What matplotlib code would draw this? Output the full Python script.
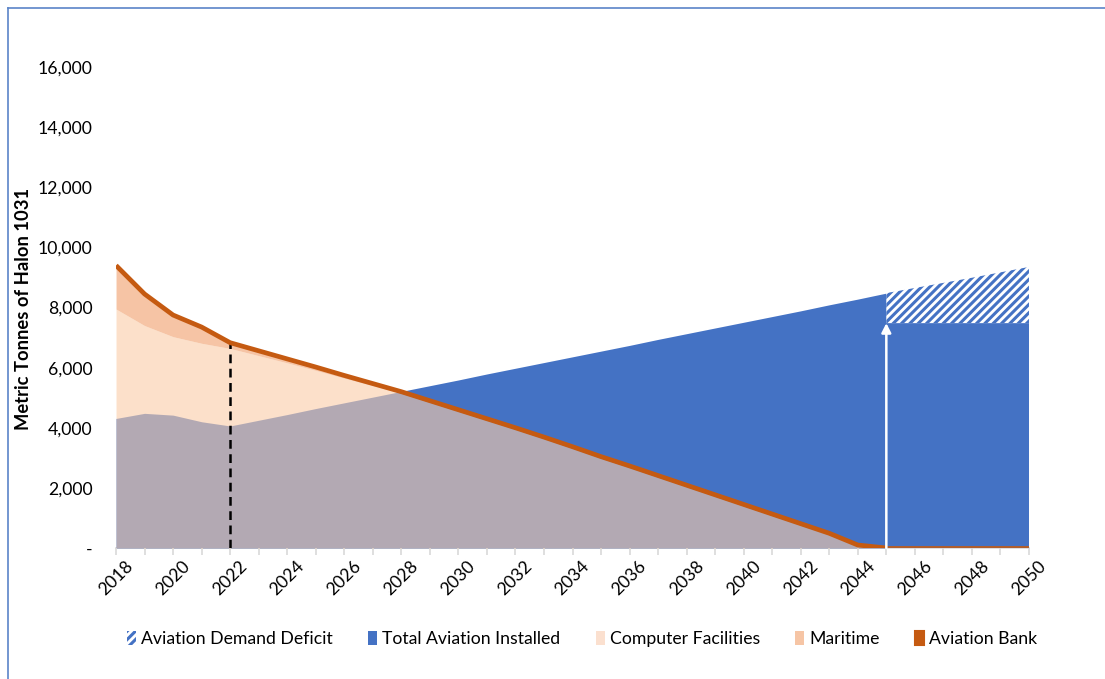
import matplotlib
matplotlib.use("Agg")
import matplotlib.pyplot as plt
import numpy as np
from matplotlib.patches import Patch
from matplotlib.lines import Line2D
from matplotlib.ticker import FuncFormatter, MultipleLocator

plt.rcParams['font.family'] = ['Lato', 'DejaVu Sans']
plt.rcParams['hatch.linewidth'] = 2.2

years = list(range(2018, 2051))

# Aviation bank (line), 2018-2050
aviation_bank = [9400, 8450, 7750, 7350, 6830, 6560, 6290, 6020, 5740, 5470,
                 5200, 4900, 4600, 4300, 4000, 3690, 3370, 3040, 2730, 2410,
                 2090, 1770, 1450, 1130, 810, 490, 100, 0, 0, 0, 0, 0, 0]

# Computer facilities (lower band of the bank), 2018-2050
computer_facilities = [7950, 7400, 7030, 6810, 6640, 6400, 6160, 5910, 5650, 5400,
                       5150, 4850, 4550, 4250, 3950, 3640, 3320, 2990, 2680, 2360,
                       2040, 1720, 1400, 1080, 760, 450, 70, 0, 0, 0, 0, 0, 0]

# Total aviation installed, 2018-2045
installed_years = list(range(2018, 2046))
total_installed = [4310, 4480, 4420, 4200, 4060, 4250, 4440, 4640, 4830, 5020,
                   5210, 5400, 5590, 5790, 5980, 6170, 6360, 6550, 6740, 6940,
                   7130, 7320, 7510, 7700, 7890, 8090, 8280, 8480]

# Installed after 2045 and the demand deficit on top of it
post_years = [2045, 2046, 2047, 2048, 2049, 2050]
installed_post = [7480, 7480, 7480, 7480, 7480, 7480]
demand_deficit = [1000, 1170, 1340, 1510, 1690, 1870]

cutoff_year = 2022

BLUE = '#4472C4'
ORANGE = '#C55A11'
COMP = '#FBCDA9'
MARI = '#F09E69'
COMP_LEG = '#FBE0CF'
MARI_LEG = '#F6C5A5'

fig = plt.figure(figsize=(11.05, 6.79), dpi=100)
ax = fig.add_axes([0.105, 0.1929, 0.8262, 0.7084])

yrs = np.array(years)
bank = np.array(aviation_bank)
comp = np.array(computer_facilities)

# installed area
ax.fill_between(installed_years, 0, total_installed, color=BLUE, lw=0, zorder=1)
ax.fill_between(post_years, 0, installed_post, color=BLUE, lw=0, zorder=1)
# deficit (hatched)
top = np.array(installed_post) + np.array(demand_deficit)
ax.fill_between(post_years, installed_post, top, facecolor='white',
                edgecolor=BLUE, hatch='////', lw=0, zorder=1)

# bank composition, semi-transparent over the installed area
ax.fill_between(yrs, 0, comp, color=COMP, alpha=0.61, lw=0, zorder=2)
ax.fill_between(yrs, comp, bank, color=MARI, alpha=0.6, lw=0, zorder=2)

# bank line: thick while non-zero, thin along the axis afterwards
nz = int(np.nonzero(bank)[0][-1]) + 2
ax.plot(yrs[:nz], bank[:nz], color=ORANGE, lw=3.4, zorder=4,
        solid_joinstyle='round', solid_capstyle='butt')
ax.plot(yrs[nz - 1:], bank[nz - 1:] + 25, color=ORANGE, lw=1.2, zorder=4)

# cutoff marker
ax.plot([cutoff_year, cutoff_year], [0, aviation_bank[years.index(cutoff_year)]],
        color='black', lw=1.8, dashes=(3.5, 2.2), zorder=3)

# arrow at 2045
ax.annotate('', xy=(2045, installed_post[0]), xytext=(2045, 0),
            arrowprops=dict(arrowstyle='-|>,head_length=0.55,head_width=0.28',
                            color='white', lw=1.8, shrinkA=0, shrinkB=0),
            zorder=5)

ax.set_xlim(2018, 2050)
ax.set_ylim(0, 16000)
ax.xaxis.set_major_locator(MultipleLocator(2))
ax.xaxis.set_minor_locator(MultipleLocator(1))
ax.yaxis.set_major_locator(MultipleLocator(2000))
ax.yaxis.set_major_formatter(FuncFormatter(lambda v, p: '-' if v == 0 else f'{int(v):,}'))

for s in ['top', 'right', 'left']:
    ax.spines[s].set_visible(False)
ax.spines['bottom'].set_color('#D9D9D9')
ax.spines['bottom'].set_linewidth(1.2)
ax.spines['bottom'].set_zorder(0.5)

ax.tick_params(axis='x', which='both', length=5, color='#D9D9D9', width=1.2,
               labelsize=12.7, labelcolor='black', pad=2)
ax.tick_params(axis='y', length=0, labelsize=12.7, pad=17)
for lbl in ax.get_xticklabels():
    lbl.set_rotation(45)
    lbl.set_ha('center')
    lbl.set_va('top')

fig.text(0.021, 0.545, 'Metric Tonnes of Halon 1031', rotation=90,
         fontsize=13.2, fontweight='bold', ha='center', va='center')

handles = [
    Patch(facecolor='white', edgecolor=BLUE, hatch='////', lw=0),
    Patch(facecolor=BLUE, lw=0),
    Patch(facecolor=COMP_LEG, lw=0),
    Patch(facecolor=MARI_LEG, lw=0),
    Patch(facecolor=ORANGE, edgecolor=ORANGE, lw=1.5),
]
labels = ['Aviation Demand Deficit', 'Total Aviation Installed',
          'Computer Facilities', 'Maritime', 'Aviation Bank']
fig.legend(handles, labels, loc='center', bbox_to_anchor=(0.527, 0.059),
           ncol=5, frameon=False, fontsize=12.7, handlelength=0.5,
           handleheight=0.85, handletextpad=0.3, columnspacing=2.0)

# outer frame (left and top edges)
fig.add_artist(Line2D([0.0075, 0.0075], [0, 0.9885], transform=fig.transFigure,
                      color='#5B84C8', lw=1.2))
fig.add_artist(Line2D([0.0075, 1.0], [0.9885, 0.9885], transform=fig.transFigure,
                      color='#5B84C8', lw=1.2))

fig.savefig('out.png', dpi=100)
